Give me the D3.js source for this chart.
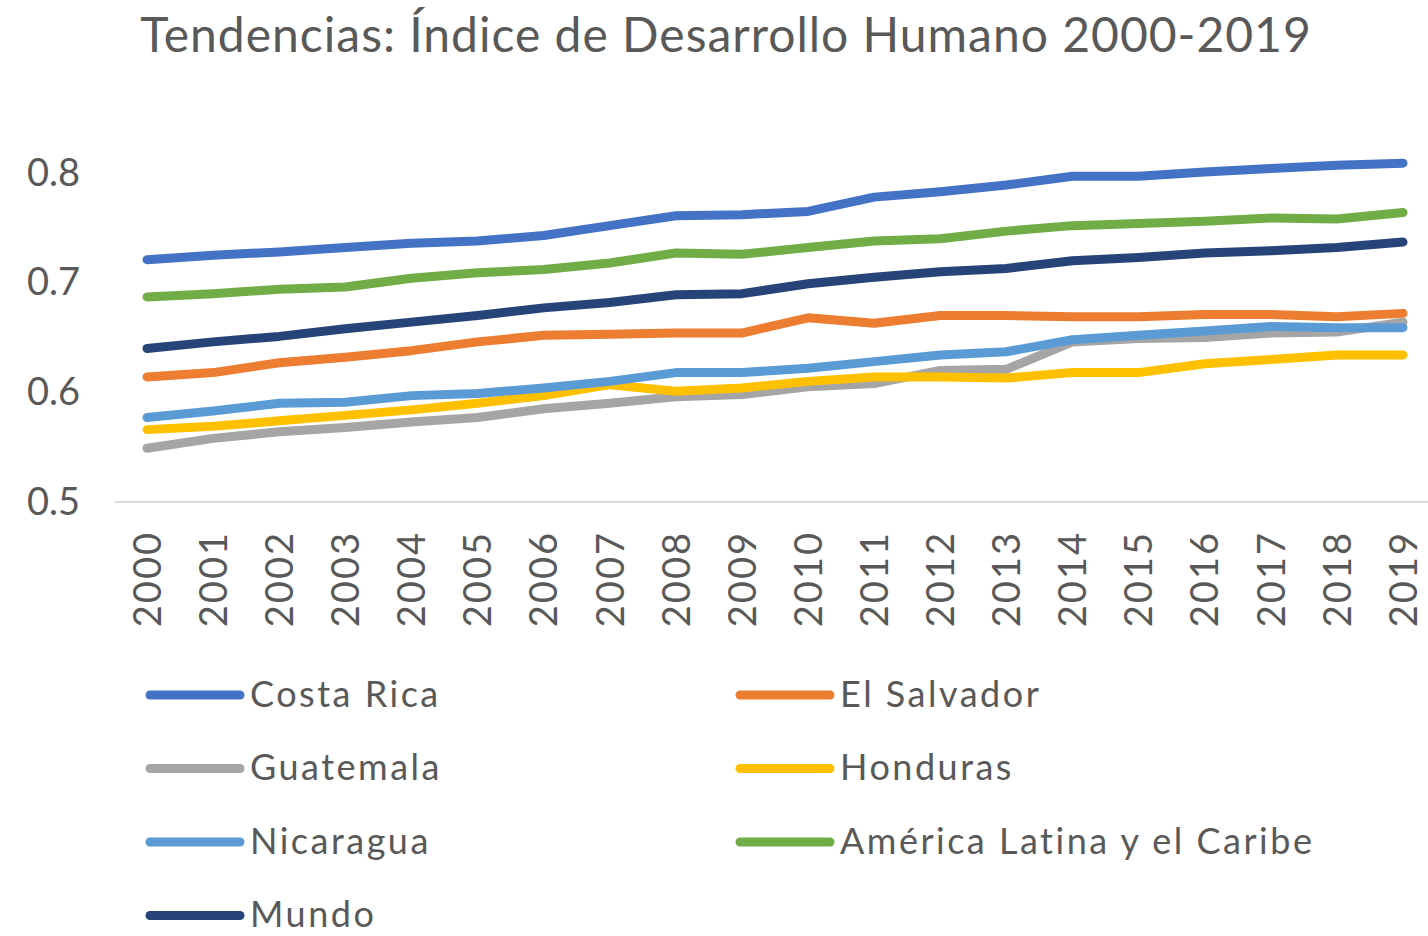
<!DOCTYPE html>
<html>
<head>
<meta charset="utf-8">
<script src="https://cdn.jsdelivr.net/npm/d3@7"></script>
<style>
  body { margin: 0; background: #fff; }
  svg text { font-family: Lato, "Open Sans", sans-serif; fill: #595959; }
</style>
</head>
<body>
<div id="chart"></div>
<script>

var years = ["2000","2001","2002","2003","2004","2005","2006","2007","2008","2009",
             "2010","2011","2012","2013","2014","2015","2016","2017","2018","2019"];

var costaRica  = [0.721,0.725,0.728,0.732,0.736,0.738,0.743,0.752,0.761,0.762,0.765,0.778,0.783,0.789,0.797,0.797,0.801,0.804,0.807,0.809];
var elSalvador = [0.614,0.618,0.627,0.632,0.638,0.646,0.652,0.653,0.654,0.654,0.668,0.663,0.670,0.670,0.669,0.669,0.671,0.671,0.669,0.672];
var guatemala  = [0.549,0.558,0.564,0.568,0.573,0.577,0.585,0.590,0.596,0.598,0.605,0.608,0.620,0.621,0.646,0.649,0.650,0.654,0.655,0.664];
var honduras   = [0.566,0.569,0.574,0.579,0.584,0.590,0.597,0.607,0.601,0.604,0.610,0.614,0.614,0.613,0.618,0.618,0.626,0.630,0.634,0.634];
var nicaragua  = [0.577,0.583,0.590,0.591,0.597,0.599,0.604,0.610,0.618,0.618,0.622,0.628,0.634,0.637,0.648,0.652,0.656,0.660,0.659,0.659];
var alc        = [0.687,0.690,0.694,0.696,0.704,0.709,0.712,0.718,0.727,0.726,0.732,0.738,0.740,0.747,0.752,0.754,0.756,0.759,0.758,0.764];
var mundo      = [0.640,0.646,0.651,0.658,0.664,0.670,0.677,0.682,0.689,0.690,0.699,0.705,0.710,0.713,0.720,0.723,0.727,0.729,0.732,0.737];

var seriesNames  = ["Costa Rica","El Salvador","Guatemala","Honduras","Nicaragua","América Latina y el Caribe","Mundo"];
var seriesValues = [costaRica, elSalvador, guatemala, honduras, nicaragua, alc, mundo];
var colors = ["#4472C4","#ED7D31","#A5A5A5","#FFC000","#5B9BD5","#70AD47","#264478"];

var yTicks = [0.5, 0.6, 0.7, 0.8];

var W = 1428, H = 936;

var svg = d3.select("#chart").append("svg")
  .attr("width", W)
  .attr("height", H);

// title
svg.append("text")
  .attr("x", 726)
  .attr("y", 52)
  .attr("text-anchor", "middle")
  .style("font-size", "48px")
  .style("letter-spacing", "1px")
  .text("Tendencias: Índice de Desarrollo Humano 2000-2019");

// scales
var x = d3.scalePoint().domain(years).range([147, 1403]);
var y = d3.scaleLinear().domain([0.5, 0.8]).range([502, 173]);

// baseline
svg.append("line")
  .attr("x1", 115).attr("x2", W)
  .attr("y1", y(0.5)).attr("y2", y(0.5))
  .attr("stroke", "#d9d9d9")
  .attr("stroke-width", 2);

// y axis
var yAxis = d3.axisLeft(y).tickValues(yTicks).tickSize(0).tickPadding(35)
  .tickFormat(d3.format(".1f"));
var gy = svg.append("g")
  .attr("transform", "translate(115,0)")
  .call(yAxis);
gy.select(".domain").remove();
gy.attr("font-family", null);
gy.selectAll("text")
  .style("font-size", "38px")
  .attr("fill", null);

// x axis
var xAxis = d3.axisBottom(x).tickSize(0);
var gx = svg.append("g")
  .attr("transform", "translate(0," + y(0.5) + ")")
  .call(xAxis);
gx.select(".domain").remove();
gx.attr("font-family", null);
gx.selectAll("text")
  .style("font-size", "38px")
  .style("letter-spacing", "2px")
  .attr("fill", null)
  .attr("text-anchor", "end")
  .attr("dy", "0.35em")
  .attr("y", 0)
  .attr("transform", "translate(0,29)rotate(-90)");

// lines
var line = d3.line()
  .x(function(d, i) { return x(years[i]); })
  .y(function(d) { return y(d); });

svg.append("g").selectAll("path")
  .data(seriesValues)
  .enter()
  .append("path")
  .attr("d", line)
  .attr("fill", "none")
  .attr("stroke", function(d, i) { return colors[i]; })
  .attr("stroke-width", 9)
  .attr("stroke-linecap", "round")
  .attr("stroke-linejoin", "round");

// legend
var legend = svg.append("g").selectAll("g")
  .data(seriesNames)
  .enter()
  .append("g")
  .attr("transform", function(d, i) {
    return "translate(" + (i % 2 === 0 ? 150 : 740) + "," + (695 + Math.floor(i / 2) * 73.5) + ")";
  });

legend.append("line")
  .attr("x1", 0).attr("x2", 90)
  .attr("stroke", function(d, i) { return colors[i]; })
  .attr("stroke-width", 9)
  .attr("stroke-linecap", "round");

legend.append("text")
  .attr("x", 100)
  .attr("dy", "0.33em")
  .style("font-size", "36px")
  .style("letter-spacing", "2.5px")
  .text(function(d) { return d; });

</script>
</body>
</html>
